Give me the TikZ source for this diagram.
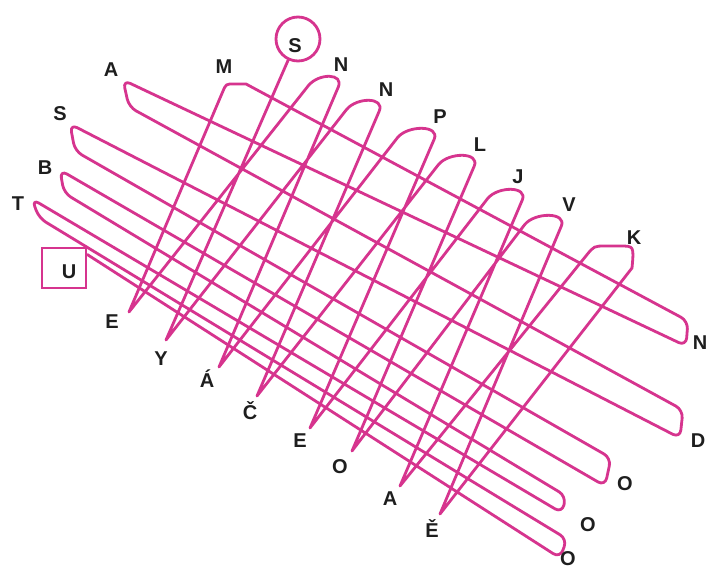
\documentclass[tikz,border=0pt]{standalone}
\usepackage{fontspec}
\setmainfont{Liberation Sans}
\usetikzlibrary{calc}
\definecolor{mz}{RGB}{214,52,142}
\definecolor{lt}{RGB}{30,30,30}
\begin{document}
\begin{tikzpicture}[x=1pt,y=-1pt,
  maze/.style={draw=mz, line width=2.8pt, line join=round, line cap=round},
  lab/.style={text=lt, font=\fontsize{20}{20}\selectfont\bfseries, inner sep=0pt, anchor=base},
  ]
\fill[white] (0,0) rectangle (709,569);
\useasboundingbox (0,0) rectangle (709,569);
% bottom tips
\coordinate (bE) at (129,312);
\coordinate (bY) at (166,340);
\coordinate (bAa) at (219,367);
\coordinate (bC) at (257,396);
\coordinate (bE2) at (310,428);
\coordinate (bO) at (352,451);
\coordinate (bA) at (400,486);
\coordinate (bEe) at (440,514);
% top tips (corner points of the arches)
\coordinate (n1a) at (316,76);  \coordinate (n1b) at (343,76);
\coordinate (n2a) at (354,100); \coordinate (n2b) at (384,100);
\coordinate (pa) at (405,128);  \coordinate (pb) at (439,128);
\coordinate (la) at (446,155);  \coordinate (lb) at (479,155);
\coordinate (ja) at (495,189);  \coordinate (jb) at (527,189);
\coordinate (va) at (532,215);  \coordinate (vb) at (566,215);
\coordinate (k1) at (632,268);  \coordinate (k2) at (634,246);
\coordinate (k3) at (594,246);
\coordinate (m1) at (226,84);   \coordinate (m2) at (246,84);
% right tips
\coordinate (nr1) at (688,321); \coordinate (nr2) at (686,346);
\coordinate (d1) at (683,410);  \coordinate (d2) at (680,438);
\coordinate (o11) at (611,458); \coordinate (o12) at (605,486);
\coordinate (o21) at (566,496); \coordinate (o22) at (562,513);
\coordinate (o31) at (567,539); \coordinate (o32) at (560,558);
% left tips
\coordinate (al1) at (123,80);  \coordinate (al2) at (129,107);
\coordinate (sl1) at (70,124);  \coordinate (sl2) at (75,151);
\coordinate (bl1) at (60,170);  \coordinate (bl2) at (64,193);
\coordinate (tl1) at (32,199);  \coordinate (tl2) at (39,218);
% start and end
\node[circle, draw=mz, line width=2.8pt, minimum size=44pt, inner sep=0pt] (Sc) at (298,39) {};
\node[draw=mz, line width=2.6pt, minimum width=44pt, minimum height=40pt, inner sep=0pt] (Ub) at (64,268) {};
\draw[maze] (Sc.245) -- (bY)
  -- ($(n2a)!12pt!(bY)$) .. controls ($(n2a)+(3,-3)$) and ($(n2b)+(1,-3)$) .. ($(n2b)!12pt!(bC)$) -- (bC)
  -- ($(la)!12pt!(bC)$) .. controls ($(la)+(3,-3)$) and ($(lb)+(1,-3)$) .. ($(lb)!12pt!(bO)$) -- (bO)
  -- ($(va)!12pt!(bO)$) .. controls ($(va)+(3,-3)$) and ($(vb)+(1,-3)$) .. ($(vb)!12pt!(bEe)$) -- (bEe)
  -- (k1) .. controls (k2) .. (620,246) -- (606,246) .. controls (k3) .. ($(k3)!12pt!(bA)$) -- (bA)
  -- ($(jb)!12pt!(bA)$) .. controls ($(jb)+(1,-3)$) and ($(ja)+(3,-3)$) .. ($(ja)!12pt!(bE2)$) -- (bE2)
  -- ($(pb)!12pt!(bE2)$) .. controls ($(pb)+(1,-3)$) and ($(pa)+(3,-3)$) .. ($(pa)!12pt!(bAa)$) -- (bAa)
  -- ($(n1b)!12pt!(bAa)$) .. controls ($(n1b)+(1,-3)$) and ($(n1a)+(3,-3)$) .. ($(n1a)!12pt!(bE)$) -- (bE)
  -- ($(m1)!8pt!(bE)$) .. controls (m1) .. ($(m1)!8pt!(m2)$) -- (m2)
  [rounded corners=8pt] -- (nr1) -- (nr2) -- (al1) -- (al2) -- (d1) -- (d2)
  -- (sl1) -- (sl2) -- (o11) -- (o12) -- (bl1) -- (bl2) -- (o21) -- (o22)
  -- (tl1) -- (tl2) -- (o31) -- (o32) -- (Ub.30);
% labels
\node[lab] (tS) at (295,53) {S};
\node[lab] (tU) at (69,278) {U};
\node[lab] (tA1) at (111,77) {A};
\node[lab] (tM) at (224,74) {M};
\node[lab] (tN1) at (341,72) {N};
\node[lab] (tN2) at (386,97) {N};
\node[lab] (tP) at (440,124) {P};
\node[lab] (tL) at (480,152) {L};
\node[lab] (tJ) at (518,184) {J};
\node[lab] (tV) at (569,212) {V};
\node[lab] (tK) at (634,245) {K};
\node[lab] (tS2) at (60,121) {S};
\node[lab] (tB) at (45,175) {B};
\node[lab] (tT) at (18,211) {T};
\node[lab] (tE1) at (112,328) {E};
\node[lab] (tY) at (161,365) {Y};
\node[lab] (tAa) at (207,387) {Á};
\node[lab] (tC) at (250,419) {Č};
\node[lab] (tE2) at (300,447) {E};
\node[lab] (tO1) at (340,473) {O};
\node[lab] (tA2) at (390,505) {A};
\node[lab] (tEe) at (432,537) {Ě};
\node[lab] (tN3) at (700,349) {N};
\node[lab] (tD) at (698,447) {D};
\node[lab] (tO2) at (625,490) {O};
\node[lab] (tO3) at (588,531) {O};
\node[lab] (tO4) at (568,565) {O};
\end{tikzpicture}
\end{document}
